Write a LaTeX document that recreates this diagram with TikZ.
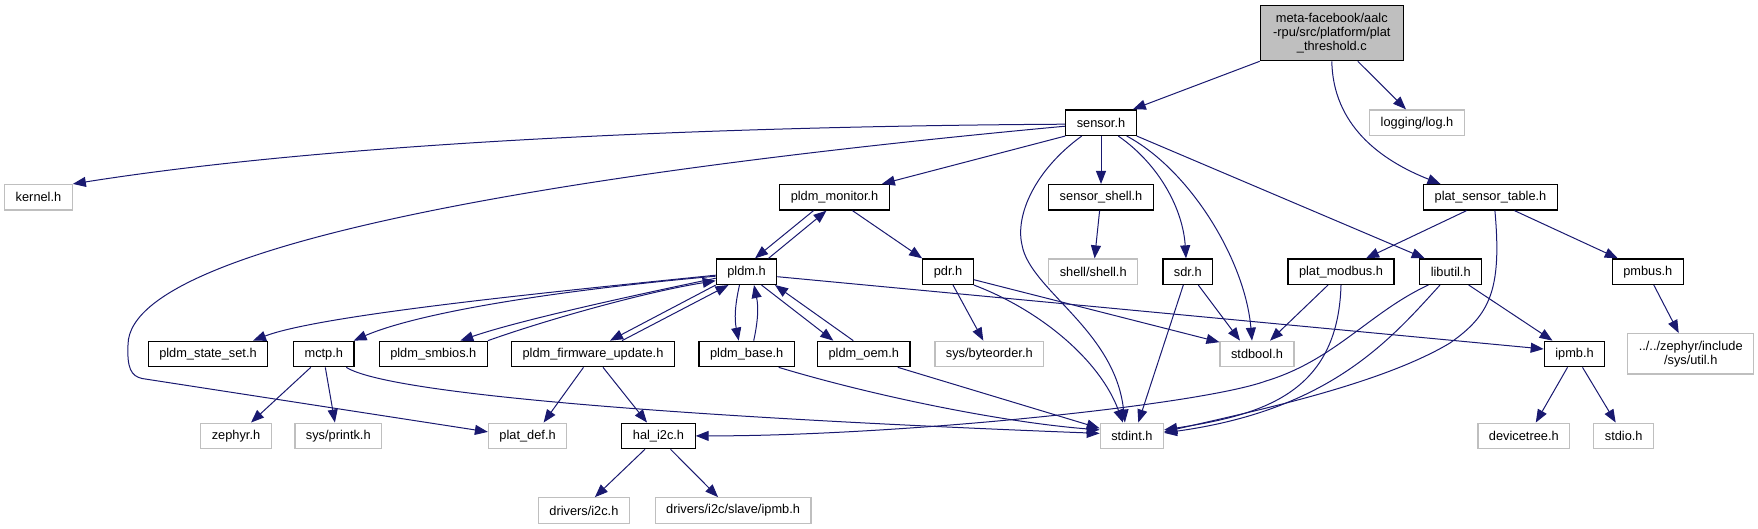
\documentclass[tikz,border=0pt]{standalone}
\usepackage{fontspec}
\setmainfont{Liberation Sans}
\usepackage{xcolor}
\usetikzlibrary{arrows.meta,positioning}

\definecolor{edgeblue}{HTML}{191970}
\definecolor{boxgrey}{HTML}{BFBFBF}

\begin{document}
\begin{tikzpicture}[
    x=1pt, y=-1pt,
    font=\fontsize{12.8}{14.2}\selectfont,
    >={Triangle[length=13pt,width=10pt]},
    hdr/.style  = {draw=black, line width=1.2pt, fill=white, minimum height=25.5pt,
                   inner xsep=11pt, inner ysep=0pt},
    ext/.style  = {hdr, draw=boxgrey},
    root/.style = {hdr, fill=boxgrey, align=center, minimum width=143pt,
                   minimum height=55pt},
    inc/.style  = {->, draw=edgeblue, line width=1pt},
]
\useasboundingbox (0,0) rectangle (1758,529);

% ============ nodes, row by row ============
\node[root] (main) at (1331.8,33.2) {meta-facebook/aalc\\-rpu/src/platform/plat\\\_threshold.c};

\node[hdr] (sensor) at (1101,122.7) {sensor.h};
\node[ext] (logh)   at (1417,122.7) {logging/log.h};

\node[ext] (kernel) at (38.5,197.3)  {kernel.h};
\node[hdr] (pmon)   at (834.5,197.3) {pldm\_monitor.h};
\node[hdr] (sshell) at (1101,197.3)  {sensor\_shell.h};
\node[hdr] (pst)    at (1490.5,197.3) {plat\_sensor\_table.h};

\node[hdr] (pldm)    at (746.5,271.7)  {pldm.h};
\node[hdr] (pdr)     at (948,271.7)    {pdr.h};
\node[ext] (shell)   at (1093.2,271.7) {shell/shell.h};
\node[hdr] (sdr)     at (1187.8,271.7) {sdr.h};
\node[hdr] (pmodbus) at (1341,271.7)   {plat\_modbus.h};
\node[hdr] (libutil) at (1450.7,271.7) {libutil.h};
\node[hdr] (pmbus)   at (1647.8,271.7) {pmbus.h};

\node[hdr] (stateset)  at (208,354)    {pldm\_state\_set.h};
\node[hdr] (mctp)      at (323.8,354)  {mctp.h};
\node[hdr] (smbios)    at (433.3,354)  {pldm\_smbios.h};
\node[hdr] (fwupd)     at (593,354)    {pldm\_firmware\_update.h};
\node[hdr] (pbase)     at (746.7,354)  {pldm\_base.h};
\node[hdr] (poem)      at (863.8,354)  {pldm\_oem.h};
\node[ext] (byteorder) at (989.3,354)  {sys/byteorder.h};
\node[ext] (stdbool)   at (1257,354)   {stdbool.h};
\node[hdr] (ipmb)      at (1574.5,354) {ipmb.h};
\node[ext, align=center, minimum width=124.7pt, minimum height=40.3pt]
           (utilh)     at (1690.7,353.8) {../../zephyr/include\\/sys/util.h};

\node[ext] (zephyr)  at (236,435.9)    {zephyr.h};
\node[ext] (printk)  at (338.3,435.9)  {sys/printk.h};
\node[ext] (platdef) at (527.6,435.9)  {plat\_def.h};
\node[hdr] (hali2c)  at (658.5,435.9)  {hal\_i2c.h};
\node[ext] (stdint)  at (1131.9,435.9) {stdint.h};
\node[ext] (devtree) at (1523.8,435.9) {devicetree.h};
\node[ext] (stdio)   at (1623.7,435.9) {stdio.h};

\node[ext] (i2c)       at (583.9,510.5) {drivers/i2c.h};
\node[ext] (slaveipmb) at (733.1,510.5) {drivers/i2c/slave/ipmb.h};

% ============ plat_threshold.c ============
\draw[inc] (main.south west) -- ([xshift=-4pt]sensor.north east);
\draw[inc] ([xshift=26pt]main.south) -- ([xshift=-11pt]logh.north);
\draw[inc] (main.south) .. controls (1333,125) and (1380,160) .. ([xshift=-50pt]pst.north);

% ============ sensor.h ============
\draw[inc] ([yshift=-1.5pt]sensor.west) .. controls (750,126) and (350,140) .. (kernel.north east);
% long way round to plat_def.h
\draw[inc] ([yshift=-3.5pt]sensor.west) .. controls (700,160) and (128,230) .. (128,345)
    .. controls (127,368) and (131,376) .. (142,378.5) -- ([yshift=4pt]platdef.west);
\draw[inc] (sensor.south west) -- ([xshift=-8pt]pmon.north east);
\draw[inc] ([xshift=-19.3pt]sensor.south) .. controls (1035,170) and (1015,215) .. (1022,245)
    .. controls (1030,290) and (1115,330) .. ([xshift=-7pt]stdint.north);
\draw[inc] (sensor) -- (sshell);
\draw[inc] ([xshift=17.3pt]sensor.south) .. controls (1160,165) and (1183,210) .. ([xshift=-1.8pt]sdr.north);
\draw[inc] ([xshift=25.7pt]sensor.south) .. controls (1190,170) and (1245,260) .. ([xshift=-5pt]stdbool.north);
\draw[inc] (sensor.south east) -- ([xshift=-26pt]libutil.north);

% ============ plat_sensor_table.h ============
\draw[inc] ([xshift=-24pt]pst.south) -- ([xshift=25pt]pmodbus.north);
\draw[inc] ([xshift=4.4pt]pst.south) .. controls (1502,290) and (1490,315) .. (1450,343)
    .. controls (1380,385) and (1250,412) .. ([yshift=4pt]stdint.east);
\draw[inc] ([xshift=24pt]pst.south) -- ([xshift=-30pt]pmbus.north);

% ============ pldm_monitor.h, sensor_shell.h ============
\draw[inc] ([xshift=-21pt]pmon.south) -- ([xshift=8.5pt]pldm.north);
\draw[inc] ([xshift=22pt]pldm.north) -- ([xshift=-8pt]pmon.south);
\draw[inc] ([xshift=18pt]pmon.south) -- (pdr.north west);
\draw[inc] (sshell) -- (shell);

% ============ pldm.h ============
\draw[inc] ([yshift=-3.5pt]pldm.west) .. controls (550,292) and (320,315) .. ([xshift=45pt]stateset.north);
\draw[inc] ([yshift=-4.5pt]pldm.west) .. controls (560,290) and (420,312) .. ([xshift=-1pt]mctp.north east);
\draw[inc] ([yshift=-6.5pt]pldm.west) .. controls (640,294) and (520,320) .. ([xshift=27pt]smbios.north);
\draw[inc] (smbios.north east) .. controls (540,322) and (640,293) .. ([yshift=-9pt]pldm.west);
\draw[inc] (pldm.south west) -- ([xshift=17pt]fwupd.north);
\draw[inc] ([xshift=29pt]fwupd.north) -- ([xshift=-18pt]pldm.south);
\draw[inc] ([xshift=-7pt]pldm.south) to[bend right=12] ([xshift=-8pt]pbase.north);
\draw[inc] ([xshift=7pt]pbase.north) to[bend right=12] ([xshift=7.5pt]pldm.south);
\draw[inc] ([xshift=15pt]pldm.south) -- ([xshift=-30.5pt]poem.north);
\draw[inc] ([xshift=-10.5pt]poem.north) -- ([xshift=28.5pt]pldm.south);
\draw[inc] ([yshift=-5pt]pldm.east) -- ([yshift=5pt]ipmb.west);

% ============ pdr.h, sdr.h ============
\draw[inc] ([xshift=5pt]pdr.south) -- ([xshift=-6pt]byteorder.north);
\draw[inc] (pdr.south east) .. controls (1040,310) and (1100,360) .. ([xshift=-9pt]stdint.north);
\draw[inc] ([yshift=-8pt]pdr.east) -- ([yshift=-1.5pt]stdbool.north west);
\draw[inc] ([xshift=-4.5pt]sdr.south) -- ([xshift=6.4pt]stdint.north);
\draw[inc] ([xshift=10.5pt]sdr.south) -- ([xshift=-17pt]stdbool.north);

% ============ plat_modbus.h, libutil.h, pmbus.h ============
\draw[inc] ([xshift=-13pt]pmodbus.south) -- ([xshift=13pt]stdbool.north);
\draw[inc] (pmodbus.south) .. controls (1338,395) and (1260,415) .. ([yshift=6pt]stdint.east);
\draw[inc] ([xshift=-22.4pt]libutil.south) .. controls (1370,312) and (1335,360) .. (1266,381)
    .. controls (1200,405) and (900,436) .. (hali2c.east);
\draw[inc] ([xshift=-10.7pt]libutil.south) .. controls (1390,340) and (1330,410) .. ([yshift=3pt]stdint.east);
\draw[inc] ([xshift=18pt]libutil.south) -- ([xshift=-22pt]ipmb.north);
\draw[inc] ([xshift=6pt]pmbus.south) -- ([xshift=-12pt]utilh.north);

% ============ row of pldm headers ============
\draw[inc] ([xshift=-13pt]mctp.south) -- ([xshift=15pt]zephyr.north);
\draw[inc] ([xshift=1.5pt]mctp.south) -- ([xshift=-3.4pt]printk.north);
\draw[inc] ([xshift=22.5pt]mctp.south) .. controls (390,395) and (700,418) .. ([yshift=2.5pt]stdint.west);
\draw[inc] ([xshift=-9.5pt]fwupd.south) -- ([xshift=16pt]platdef.north);
\draw[inc] ([xshift=10pt]fwupd.south) -- ([xshift=-11.5pt]hali2c.north);
\draw[inc] ([xshift=32pt]pbase.south) .. controls (870,395) and (1000,422) .. ([yshift=6pt]stdint.west);
\draw[inc] ([xshift=34pt]poem.south) -- ([yshift=7.6pt]stdint.west);

% ============ hal_i2c.h, ipmb.h ============
\draw[inc] ([xshift=-13.5pt]hali2c.south) -- ([xshift=11pt]i2c.north);
\draw[inc] ([xshift=12pt]hali2c.south) -- ([xshift=-15pt]slaveipmb.north);
\draw[inc] ([xshift=-7pt]ipmb.south) -- ([xshift=12pt]devtree.north);
\draw[inc] ([xshift=8pt]ipmb.south) -- ([xshift=-8pt]stdio.north);

\end{tikzpicture}
\end{document}
